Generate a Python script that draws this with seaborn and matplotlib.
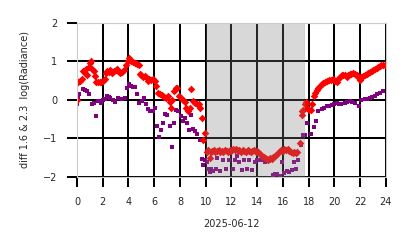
import matplotlib
matplotlib.use("Agg")
import matplotlib.pyplot as plt
import seaborn as sns
import pandas as pd

# ---- data: (hour of day, value) ----
red_points = [
    (0.0, 0.0), (0.08, 0.45), (0.2, 0.5), (0.35, 0.55), (0.5, 0.75), (0.6, 0.7),
    (0.7, 0.8), (0.8, 0.65), (0.9, 0.85), (1.0, 0.95), (1.1, 1.0), (1.2, 0.8),
    (1.3, 0.75), (1.4, 0.62), (1.5, 0.47), (1.6, 0.45), (1.75, 0.47), (1.9, 0.45),
    (2.05, 0.5), (2.15, 0.55), (2.25, 0.7), (2.35, 0.75), (2.5, 0.72), (2.6, 0.76),
    (2.75, 0.7), (2.9, 0.75), (3.0, 0.78), (3.1, 0.8), (3.2, 0.75), (3.35, 0.7),
    (3.5, 0.72), (3.65, 0.78), (3.8, 0.9), (3.95, 1.0), (4.05, 1.08), (4.2, 1.0),
    (4.35, 0.97), (4.5, 0.95), (4.65, 0.93), (4.8, 0.9), (4.9, 0.67), (5.0, 0.65),
    (5.15, 0.6), (5.3, 0.62), (5.4, 0.58), (5.5, 0.5), (5.6, 0.55), (5.75, 0.52),
    (5.9, 0.55), (6.05, 0.5), (6.15, 0.35), (6.3, 0.18), (6.45, 0.15), (6.6, 0.12),
    (6.75, 0.08), (6.9, 0.05), (7.05, 0.1), (7.2, -0.05), (7.3, -0.2), (7.42, 0.0),
    (7.55, 0.22), (7.68, 0.3), (7.8, 0.3), (7.95, 0.1), (8.1, 0.05), (8.25, 0.0),
    (8.4, -0.05), (8.5, -0.2), (8.62, -0.28), (8.75, -0.2), (8.88, 0.27), (9.0, -0.02),
    (9.15, -0.08), (9.3, -0.1), (9.45, -0.12), (9.58, -0.2), (9.68, -0.47),
    (9.82, -1.03), (9.95, -0.87), (10.08, -1.35), (10.2, -1.3), (10.33, -1.5),
    (10.4, -1.35), (10.5, -1.32), (10.62, -1.3), (10.75, -1.34), (10.88, -1.33),
    (11.0, -1.3), (11.12, -1.36), (11.25, -1.32), (11.38, -1.34), (11.5, -1.3),
    (11.62, -1.33), (11.75, -1.36), (11.88, -1.3), (12.0, -1.32), (12.12, -1.28),
    (12.25, -1.3), (12.38, -1.27), (12.5, -1.33), (12.62, -1.3), (12.75, -1.34),
    (12.88, -1.3), (13.0, -1.32), (13.12, -1.35), (13.25, -1.31), (13.38, -1.33),
    (13.5, -1.35), (13.62, -1.32), (13.75, -1.3), (13.88, -1.34), (14.0, -1.33),
    (14.12, -1.37), (14.25, -1.4), (14.38, -1.45), (14.5, -1.47), (14.62, -1.5),
    (14.75, -1.52), (14.88, -1.55), (15.0, -1.5), (15.12, -1.53), (15.25, -1.47),
    (15.38, -1.45), (15.5, -1.42), (15.62, -1.38), (15.75, -1.33), (15.88, -1.3),
    (16.0, -1.33), (16.12, -1.28), (16.25, -1.3), (16.38, -1.27), (16.5, -1.32),
    (16.62, -1.35), (16.75, -1.37), (16.88, -1.35), (17.0, -1.38), (17.12, -1.36),
    (17.3, -1.12), (17.45, -0.39), (17.52, -0.3), (17.6, -0.26), (17.7, -0.1),
    (17.8, -0.05), (17.9, -0.2), (18.05, -0.26), (18.2, -0.26), (18.3, -0.1),
    (18.38, 0.1), (18.5, 0.18), (18.62, 0.26), (18.75, 0.31), (18.87, 0.36),
    (19.0, 0.4), (19.13, 0.43), (19.3, 0.46), (19.45, 0.49), (19.6, 0.51),
    (19.75, 0.52), (19.9, 0.53), (20.05, 0.5), (20.17, 0.47), (20.3, 0.55),
    (20.43, 0.6), (20.56, 0.63), (20.69, 0.65), (20.82, 0.63), (20.95, 0.6),
    (21.08, 0.64), (21.2, 0.67), (21.33, 0.68), (21.46, 0.69), (21.6, 0.67),
    (21.72, 0.65), (21.85, 0.6), (21.98, 0.52), (22.1, 0.58), (22.24, 0.62),
    (22.37, 0.65), (22.5, 0.67), (22.63, 0.7), (22.76, 0.73), (22.9, 0.75),
    (23.0, 0.77), (23.15, 0.8), (23.28, 0.82), (23.4, 0.85), (23.53, 0.88),
    (23.66, 0.9), (23.8, 0.9), (23.92, 0.9),
]

purple_points = [
    (0.0, -0.1), (0.05, 0.05), (0.15, 0.16), (0.45, 0.28), (0.65, 0.26), (0.8, 0.24),
    (0.95, 0.16), (1.15, -0.1), (1.3, -0.07), (1.47, -0.43), (1.6, -0.02), (1.8, -0.04),
    (1.9, -0.09), (2.05, 0.0), (2.17, 0.02), (2.3, 0.09), (2.45, 0.07), (2.56, 0.04),
    (2.8, 0.0), (2.95, -0.05), (3.2, 0.05), (3.47, 0.03), (3.73, 0.05), (3.86, 0.3),
    (4.07, 0.41), (4.2, 0.36), (4.33, 0.32), (4.5, 0.33), (4.7, 0.16), (4.84, -0.07),
    (5.02, -0.04), (5.2, 0.05), (5.35, -0.1), (5.49, -0.24), (5.67, -0.3), (5.88, -0.3),
    (6.05, -0.22), (6.19, -0.68), (6.34, -0.95), (6.5, -0.77), (6.7, -0.59),
    (6.83, -0.36), (7.0, -0.39), (7.22, -0.68), (7.35, -1.23), (7.54, -0.6),
    (7.7, -0.26), (7.87, -0.3), (8.05, -0.41), (8.2, -0.56), (8.4, -0.47), (8.57, -0.6),
    (8.73, -0.77), (8.86, -0.39), (9.0, -0.75), (9.17, -0.82), (9.35, -0.88),
    (9.55, -1.05), (9.68, -1.52), (9.8, -1.68), (9.94, -1.55), (10.07, -1.6),
    (10.2, -1.8), (10.35, -1.88), (10.45, -1.78), (10.6, -1.85), (10.8, -1.8),
    (10.9, -1.5), (11.1, -1.85), (11.37, -1.55), (11.6, -1.8), (11.85, -1.55),
    (12.1, -1.8), (12.25, -1.55), (12.4, -1.46), (12.6, -1.6), (12.8, -1.82),
    (13.0, -1.57), (13.2, -1.8), (13.4, -1.55), (13.6, -1.82), (13.8, -1.6),
    (14.0, -1.55), (14.2, -1.57), (14.4, -1.56), (14.6, -1.6), (14.8, -1.55),
    (14.95, -1.58), (15.1, -1.55), (15.25, -1.95), (15.4, -1.92), (15.55, -1.93),
    (15.75, -1.98), (15.9, -1.6), (16.1, -1.9), (16.3, -1.83), (16.5, -1.86),
    (16.7, -1.82), (16.85, -1.6), (17.0, -1.8), (17.2, -1.55), (17.4, -1.16),
    (17.55, -0.9), (17.7, -0.9), (17.84, -0.6), (18.2, -0.89), (18.43, -0.71),
    (18.56, -0.55), (18.75, -0.3), (19.0, -0.25), (19.2, -0.2), (19.4, -0.17),
    (19.6, -0.15), (19.78, -0.13), (19.98, -0.1), (20.17, -0.09), (20.37, -0.12),
    (20.55, -0.1), (20.8, -0.07), (21.0, -0.05), (21.2, -0.04), (21.4, -0.05),
    (21.6, -0.07), (21.9, -0.17), (22.1, 0.0), (22.37, 0.02), (22.56, 0.03),
    (22.76, 0.04), (22.95, 0.07), (23.15, 0.1), (23.35, 0.14), (23.53, 0.17),
    (23.8, 0.22),
]

x_ticks = [0, 2, 4, 6, 8, 10, 12, 14, 16, 18, 20, 22, 24]
y_ticks = [-2, -1, 0, 1, 2]
night_start, night_end = 10.0, 17.75
date_label = "2025-06-12"
y_label = "diff 1.6 & 2.3  log(Radiance)"

red_df = pd.DataFrame(red_points, columns=["hour", "value"])
purple_df = pd.DataFrame(purple_points, columns=["hour", "value"])

sns.set_theme(style="whitegrid", rc={
    "grid.color": "black",
    "grid.linewidth": 1.45,
    "axes.edgecolor": "#cccccc",
    "xtick.bottom": True,
    "ytick.left": True,
    "xtick.color": "black",
    "ytick.color": "black",
    "xtick.labelcolor": "#262626",
    "ytick.labelcolor": "#262626",
    "xtick.major.size": 7.2,
    "ytick.major.size": 7.2,
    "xtick.major.width": 1.45,
    "ytick.major.width": 1.45,
    "xtick.major.pad": 7,
    "ytick.major.pad": 7,
    "font.size": 7,
    "xtick.labelsize": 7,
    "ytick.labelsize": 7,
    "axes.labelsize": 7,
})
plt.rcParams["font.family"] = ["DejaVu Sans"]

fig = plt.figure(figsize=(4.14, 2.48), dpi=100)
ax = fig.add_axes([0.186, 0.286, 0.746, 0.623])

sns.scatterplot(data=purple_df, x="hour", y="value", ax=ax, marker="s", s=10,
                color="purple", linewidth=0, zorder=1)
sns.scatterplot(data=red_df, x="hour", y="value", ax=ax, marker="D", s=15,
                color="red", linewidth=0, zorder=1)

ax.axvspan(night_start, night_end, color="grey", alpha=0.3, linewidth=0, zorder=1.2)
ax.axvspan(night_end - 0.13, night_end, color="grey", alpha=0.08, linewidth=0, zorder=1.2)

ax.set_xlim(0, 24)
ax.set_ylim(-2, 2)
ax.set_xticks(x_ticks)
ax.set_yticks(y_ticks)
ax.set_xlabel(date_label, labelpad=9)
ax.set_ylabel(y_label, labelpad=9)
for sp in ax.spines.values():
    sp.set_linewidth(0.8)

fig.savefig("out.png", dpi=100)
